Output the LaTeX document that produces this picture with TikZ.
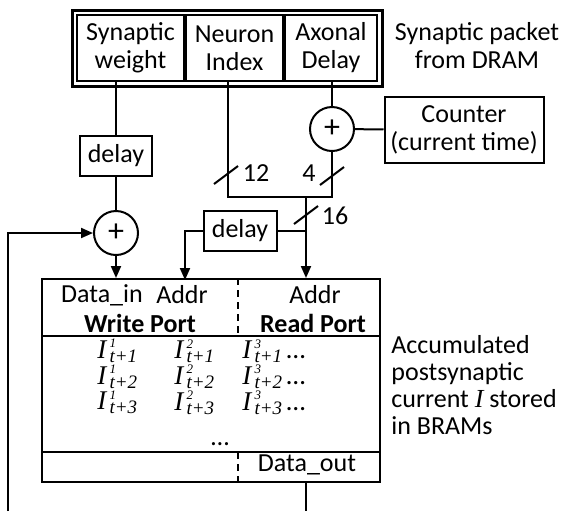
\documentclass[tikz,border=0pt]{standalone}
\usepackage{fontspec}
\setmainfont{Carlito}
\newfontfamily\tms{Liberation Serif}
\usetikzlibrary{positioning, arrows.meta, fit}

\newcommand{\cur}[2]{{\tms\itshape I\rlap{\kern1.6pt\raisebox{5.4pt}{\fontsize{6.5}{6.5}\selectfont #1}}\kern1.6pt\raisebox{-2pt}{\fontsize{9.5}{9.5}\selectfont t+#2}}}

\begin{document}
\begin{tikzpicture}[x=0.5pt, y=-0.5pt,
  field/.style={draw, line width=1pt, minimum height=33pt, align=center, inner sep=0pt},
  box/.style={draw, line width=1pt, minimum height=20pt, align=center, inner sep=2pt},
  adder/.style={draw, circle, line width=1pt, minimum size=22pt, inner sep=0pt, font=\fontsize{16}{16}\selectfont},
  wire/.style={line width=1pt},
  arr/.style={-{Triangle[length=6pt, width=5pt]}, line width=1pt},
  col/.style={anchor=north west, align=left, inner sep=0pt, font=\fontsize{13.5}{11.75}\selectfont},
  font=\fontsize{13}{14}\selectfont
]
\useasboundingbox (0,0) rectangle (563,511);

% packet from DRAM
\node (sw) [field, minimum width=53.5pt] at (130.5,48) {Synaptic\\weight};
\node (ni) [field, minimum width=48.5pt, right=0pt of sw] {Neuron\\Index};
\node (ad) [field, minimum width=46pt, right=0pt of ni] {Axonal\\Delay};
\node (pkt) [fit=(sw)(ad), inner sep=2pt, draw, line width=1.5pt] {};
\node (pktlbl) [align=center] at (477,46) {Synaptic packet\\from DRAM};

\node (dly1) [box, minimum width=36pt] at (116,156) {delay};
\node (add1) [adder] at (116,233) {+};
\node (add2) [adder] at (332,129) {+};
\node (cnt) [box, minimum width=79.5pt, minimum height=33pt] at (464,130) {Counter\\(current time)};
\node (dly2) [box, minimum width=36.5pt] at (240,231) {delay};

\coordinate (nidx) at (228,197);
\coordinate (mrg) at (306,197);
\coordinate (br) at (mrg |- dly2);
\coordinate (wa) at (185,280);
\coordinate (fb) at (8,511);
\coordinate (out) at (306,511);

% BRAM
\node (bram) [draw, line width=1pt, minimum width=169pt, minimum height=101.5pt] at (211,380.5) {};
\coordinate (hdr) at (211,336);
\coordinate (ftr) at (211,452);
\coordinate (split) at (238,466);
\draw[wire] (bram.west |- hdr) -- (bram.east |- hdr);
\draw[wire] (bram.west |- ftr) -- (bram.east |- ftr);
\draw[wire, dash pattern=on 3.5pt off 2.5pt] (bram.north -| split) -- (split |- hdr);
\draw[wire, dash pattern=on 3.5pt off 2.5pt] (split |- ftr) -- (split |- bram.south);

\node (din) at (102,295) {Data\_in};
\node (waddr) at (182,295) {Addr};
\node (wport) at (140,323) {\textbf{Write Port}};
\node (raddr) at (315,295) {Addr};
\node (rport) at (313,323) {\textbf{Read Port}};

\node (col1) [col] at (97,339) {\cur{1}{1}\\\cur{1}{2}\\\cur{1}{3}};
\node (col2) [col] at (174,339) {\cur{2}{1}\\\cur{2}{2}\\\cur{2}{3}};
\node (col3) [col] at (242,339) {\cur{3}{1}\,\dots\\\cur{3}{2}\,\dots\\\cur{3}{3}\,\dots};
\node (dots) at (220,444) {\dots};
\node (dout) at (307,465) {Data\_out};

\node (acc) [anchor=west, align=left, inner sep=0pt, font=\fontsize{13}{13.5}\selectfont] at (391,385) {Accumulated\\postsynaptic\\current {\tms\itshape I} stored\\in BRAMs};

% connections
\draw[wire] (sw.south -| dly1) -- (dly1);
\draw[wire] (dly1) -- (add1);
\draw[arr] (add1) -- (add1 |- bram.north);
\draw[wire] (ad.south -| add2) -- (add2);
\draw[wire] (add2) -- (cnt);
\draw[wire] (add2) -- (add2 |- nidx) -- (nidx) -- (ni.south -| nidx);
\draw[arr] (mrg) -- (mrg |- bram.north);
\draw[wire] (br) -- (dly2);
\draw[arr] (dly2) -| (wa);
\draw[arr] (fb) |- (add1);
\draw[wire] (bram.south -| out) -- (out);

% bus widths
\coordinate (sl12) at (226,175);
\coordinate (sl4) at (332,176);
\coordinate (sl16) at (306,215);
\draw[wire] ([shift={(-12,9)}]sl12) -- ([shift={(12,-9)}]sl12);
\draw[wire] ([shift={(-12,9)}]sl4) -- ([shift={(12,-9)}]sl4);
\draw[wire] ([shift={(-12,9)}]sl16) -- ([shift={(12,-9)}]sl16);
\node (w12) at (256,173) {12};
\node (w4) at (309,173) {4};
\node (w16) at (335,216) {16};
\end{tikzpicture}
\end{document}
